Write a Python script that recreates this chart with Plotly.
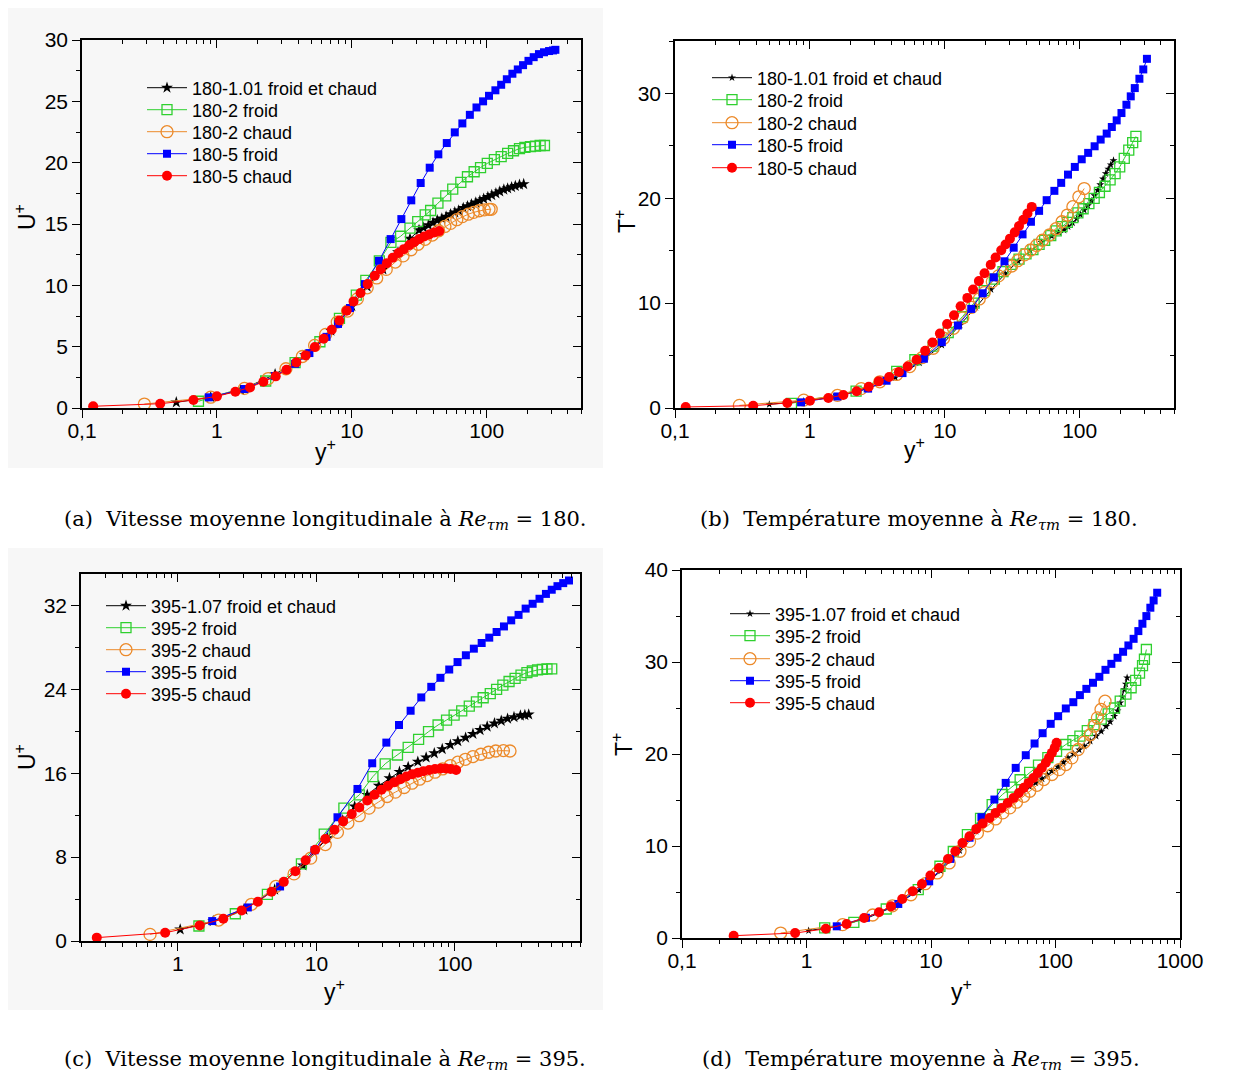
import plotly.graph_objects as go

# ----------------------------- DATA -----------------------------
NAMES_180 = ["180-1.01 froid et chaud", "180-2 froid", "180-2 chaud", "180-5 froid", "180-5 chaud"]
NAMES_395 = ["395-1.07 froid et chaud", "395-2 froid", "395-2 chaud", "395-5 froid", "395-5 chaud"]

# (a) U+ vs y+, Re=180
A_BLACK_X = [0.5, 0.9, 1.5, 2.7, 4.5, 7.0, 10.0, 13.0, 17.0, 22.0, 27.0, 31.5, 34, 37, 40, 43, 46.5, 50, 54, 58, 62, 67, 72, 77, 83, 89, 95, 102, 109, 117, 125, 134, 143, 153, 163, 175, 188]
A_BLACK_Y = [0.46, 0.88, 1.45, 2.75, 4.3, 6.3, 8.3, 9.9, 11.3, 12.7, 13.8, 14.5, 14.7, 14.9, 15.1, 15.3, 15.45, 15.6, 15.8, 15.95, 16.1, 16.3, 16.45, 16.6, 16.75, 16.9, 17.05, 17.2, 17.35, 17.5, 17.65, 17.8, 17.9, 18.0, 18.1, 18.2, 18.25]
A_GREEN_X = [0.73, 2.3, 3.8, 5.8, 8.1, 10.8, 12.7, 16.0, 19.5, 23, 27, 30.8, 35, 38.4, 43.5, 49.7, 56, 64.3, 72, 80.7, 90, 101, 114, 128, 143, 158, 175, 192, 211, 230, 249, 268]
A_GREEN_Y = [0.55, 2.2, 3.7, 5.4, 7.3, 9.2, 10.4, 12.0, 13.5, 14.0, 14.66, 15.2, 15.75, 16.1, 16.7, 17.3, 17.85, 18.4, 18.85, 19.26, 19.6, 19.94, 20.25, 20.5, 20.75, 20.97, 21.15, 21.25, 21.3, 21.35, 21.4, 21.4]
A_ORANGE_X = [0.29, 0.9, 1.6, 2.4, 3.25, 4.3, 5.3, 6.4, 7.8, 9.3, 11.0, 13.0, 15.3, 18, 21, 24, 27.5, 31, 35, 39.5, 44, 49, 54, 60, 66, 73, 80, 88, 96, 104, 108]
A_ORANGE_Y = [0.32, 0.88, 1.6, 2.4, 3.2, 4.2, 5.1, 6.0, 7.0, 7.9, 8.9, 9.8, 10.6, 11.3, 11.9, 12.4, 12.9, 13.35, 13.75, 14.1, 14.45, 14.8, 15.05, 15.35, 15.6, 15.8, 15.95, 16.08, 16.15, 16.2, 16.2]
A_BLUE_X = [0.87, 1.6, 2.7, 3.8, 4.85, 6.5, 7.9, 9.7, 12.5, 15.9, 19.4, 23.3, 27.6, 32.4, 37.8, 43.8, 50.6, 58, 66, 75, 84, 94, 104, 116, 128, 141, 155, 170, 186, 204, 223, 244, 266, 290, 310, 323]
A_BLUE_Y = [0.87, 1.55, 2.6, 3.6, 4.48, 5.8, 6.85, 8.15, 10.1, 12.0, 13.77, 15.4, 16.93, 18.34, 19.59, 20.68, 21.6, 22.47, 23.2, 23.9, 24.5, 25.0, 25.45, 25.9, 26.35, 26.8, 27.25, 27.6, 27.95, 28.3, 28.6, 28.85, 29.0, 29.1, 29.15, 29.2]
A_RED_X = [0.121, 0.38, 0.67, 1.0, 1.37, 1.76, 2.21, 2.73, 3.28, 3.88, 4.55, 5.32, 6.18, 7.1, 8.09, 9.16, 10.3, 11.6, 13.1, 14.8, 16.4, 18.2, 20.1, 22.2, 24.3, 26.7, 29.0, 31.6, 34.4, 37.5, 40.8, 44.5]
A_RED_Y = [0.14, 0.35, 0.65, 0.95, 1.33, 1.68, 2.14, 2.58, 3.12, 3.72, 4.29, 4.97, 5.65, 6.38, 7.14, 7.93, 8.69, 9.37, 10.1, 10.78, 11.32, 11.81, 12.25, 12.63, 12.95, 13.28, 13.52, 13.77, 13.98, 14.15, 14.31, 14.42]

# (b) T+ vs y+, Re=180
B_BLACK_X = [0.5, 0.9, 1.5, 2.6, 4.3, 6.5, 9.5, 13, 17, 22, 28, 35, 43, 52, 62, 70, 76.6, 82, 88.4, 95, 101, 108, 115, 122, 129, 135.6, 142, 149, 156, 163, 170, 178]
B_BLACK_Y = [0.35, 0.65, 1.05, 1.8, 2.9, 4.3, 6.0, 7.9, 9.6, 11.3, 12.8, 14.0, 15.0, 15.8, 16.4, 16.75, 16.96, 17.3, 17.66, 18.05, 18.45, 18.87, 19.3, 19.75, 20.25, 20.77, 21.3, 21.85, 22.36, 22.8, 23.2, 23.6]
B_GREEN_X = [0.73, 2.2, 4.4, 6.0, 8.2, 10.6, 13.5, 16.5, 19.6, 23.3, 27, 31, 35.5, 40, 45, 50, 55, 61, 67, 74, 81, 89, 97, 106, 117, 128, 140, 154, 168, 183, 198, 214, 231, 247, 261]
B_GREEN_Y = [0.45, 1.6, 3.5, 4.6, 5.9, 7.2, 8.7, 10.0, 11.2, 12.3, 13.0, 13.7, 14.2, 14.7, 15.1, 15.6, 16.0, 16.45, 16.9, 17.3, 17.7, 18.15, 18.6, 19.0, 19.5, 20.0, 20.55, 21.15, 21.75, 22.35, 23.0, 23.8, 24.6, 25.3, 25.9]
B_ORANGE_X = [0.3, 0.9, 1.6, 2.4, 3.3, 4.4, 5.5, 6.8, 8.2, 9.8, 11.6, 13.6, 15.8, 18.0, 19.6, 22.5, 25, 28, 31.3, 34.7, 39, 43.3, 47.9, 53, 59.7, 66.7, 74, 81, 89, 98.6, 108]
B_ORANGE_Y = [0.25, 0.75, 1.2, 1.85, 2.5, 3.2, 3.95, 4.8, 5.7, 6.65, 7.6, 8.6, 9.6, 10.4, 11.0, 12.05, 12.6, 13.16, 13.54, 14.05, 14.6, 15.07, 15.5, 16.0, 16.5, 17.1, 17.76, 18.4, 19.2, 20.14, 20.93]
B_BLUE_X = [0.86, 1.6, 2.7, 3.7, 4.86, 7.0, 9.5, 12.5, 15.7, 19.1, 23.1, 27.7, 32.4, 37.7, 43.5, 50, 56.9, 64.9, 72.9, 81.9, 92, 103.5, 115.5, 129, 143, 158.5, 173, 188, 204, 222, 239, 256, 277, 296, 315]
B_BLUE_Y = [0.54, 1.1, 1.85, 2.6, 3.33, 4.7, 6.28, 7.87, 9.45, 10.94, 12.46, 13.99, 15.29, 16.56, 17.76, 18.8, 19.82, 20.71, 21.47, 22.26, 22.99, 23.72, 24.33, 24.96, 25.6, 26.17, 26.8, 27.43, 28.13, 28.92, 29.72, 30.51, 31.4, 32.29, 33.3]
B_RED_X = [0.12, 0.38, 0.68, 1.0, 1.37, 1.77, 2.22, 2.73, 3.24, 3.87, 4.57, 5.3, 6.18, 7.15, 8.1, 9.2, 10.4, 11.7, 13.1, 14.7, 16.2, 17.9, 19.7, 21.9, 23.8, 26.2, 28.2, 30.4, 33.0, 35.5, 38.2, 41.0, 44.1]
B_RED_Y = [0.1, 0.22, 0.48, 0.7, 0.95, 1.24, 1.6, 2.03, 2.54, 2.95, 3.43, 3.96, 4.6, 5.45, 6.25, 7.1, 8.0, 8.85, 9.7, 10.5, 11.3, 12.1, 12.85, 13.65, 14.35, 15.05, 15.6, 16.15, 16.75, 17.35, 17.95, 18.55, 19.18]

# (c) U+ vs y+, Re=395
C_BLACK_X = [1.04, 1.8, 3.0, 5.0, 8.0, 12, 15.5, 18.9, 23.3, 28.2, 33.7, 39.8, 46, 54, 62, 71, 81, 92.7, 105, 119.5, 135, 152, 171, 193, 216, 240, 267, 297, 320, 341]
C_BLACK_Y = [1.1, 1.9, 3.0, 4.9, 7.2, 9.8, 11.5, 12.83, 13.94, 14.8, 15.53, 16.13, 16.6, 17.1, 17.5, 17.9, 18.3, 18.7, 19.05, 19.39, 19.75, 20.12, 20.45, 20.75, 21.0, 21.2, 21.35, 21.5, 21.55, 21.6]
C_GREEN_X = [1.42, 2.6, 4.43, 7.8, 11.4, 15.8, 20.4, 25.6, 31.4, 38.5, 46, 54.7, 64.5, 75.6, 87, 98.7, 112, 127, 143, 160, 180, 200, 222, 246, 272, 300, 331, 362, 395, 428, 462, 500]
C_GREEN_Y = [1.43, 2.6, 4.44, 7.35, 10.2, 12.67, 13.94, 15.68, 16.9, 17.74, 18.47, 19.23, 19.96, 20.6, 21.07, 21.55, 21.95, 22.4, 22.8, 23.2, 23.6, 24.0, 24.4, 24.75, 25.05, 25.35, 25.6, 25.75, 25.85, 25.9, 25.95, 25.95]
C_ORANGE_X = [0.63, 1.97, 3.4, 5.1, 6.9, 9.1, 11.6, 14.2, 16.9, 20.4, 24, 28, 32.4, 37.2, 43, 49, 55.6, 63, 71.8, 81.5, 92.6, 105, 119, 135, 154, 175, 197, 224, 250]
C_ORANGE_Y = [0.63, 2.0, 3.5, 5.2, 6.4, 7.9, 9.2, 10.36, 11.25, 11.95, 12.67, 13.24, 13.78, 14.2, 14.64, 15.05, 15.43, 15.78, 16.1, 16.41, 16.73, 17.05, 17.33, 17.59, 17.81, 18.0, 18.12, 18.16, 18.12]
C_BLUE_X = [1.77, 3.2, 5.47, 9.7, 14.2, 19.8, 25.3, 32, 39.5, 47.9, 57.2, 67.5, 78.6, 91, 104.5, 120, 137, 156, 177, 200, 226, 255, 288, 324, 364, 408, 454, 500, 550, 605, 666]
C_BLUE_Y = [1.9, 3.2, 5.2, 8.65, 11.8, 14.5, 16.95, 18.92, 20.6, 21.96, 23.23, 24.24, 25.1, 25.89, 26.6, 27.25, 27.88, 28.42, 28.93, 29.47, 30.0, 30.58, 31.1, 31.7, 32.16, 32.64, 33.1, 33.5, 33.84, 34.13, 34.38]
C_RED_X = [0.26, 0.81, 1.44, 2.13, 2.89, 3.78, 4.75, 5.82, 7.05, 8.37, 9.8, 11.6, 13.5, 15.6, 18, 20.4, 23.3, 26.3, 29.5, 32.9, 36.6, 40.5, 44.6, 49.1, 54, 59.3, 65.3, 71.8, 79, 85.9, 93, 102]
C_RED_Y = [0.32, 0.79, 1.49, 2.12, 2.92, 3.74, 4.69, 5.64, 6.65, 7.7, 8.71, 9.73, 10.61, 11.41, 12.1, 12.74, 13.4, 13.94, 14.42, 14.8, 15.15, 15.43, 15.68, 15.9, 16.05, 16.2, 16.3, 16.4, 16.45, 16.45, 16.4, 16.3]

# (d) T+ vs y+, Re=395
D_BLACK_X = [1.04, 1.8, 3.0, 5.0, 8.0, 12, 17, 23, 30, 38, 46, 55, 62, 69.5, 78, 86, 93.5, 105, 116, 126, 140, 155, 170, 190, 212, 233, 255, 275, 296, 315, 331, 345, 357, 367, 376]
D_BLACK_Y = [0.8, 1.3, 2.1, 3.4, 5.2, 7.3, 9.5, 11.6, 13.0, 14.3, 15.2, 16.0, 16.45, 16.86, 17.3, 17.75, 18.13, 18.6, 19.1, 19.58, 20.0, 20.45, 20.85, 21.4, 21.94, 22.45, 23.0, 23.5, 24.1, 24.7, 25.56, 26.2, 27.0, 27.6, 28.28]
D_GREEN_X = [1.4, 2.4, 4.37, 7.9, 11.8, 15.1, 19.6, 25, 31, 37.5, 44.4, 52, 62, 73, 86.8, 102, 121, 138, 157, 180, 204, 233, 265, 298, 331, 368, 405, 440, 473, 500, 518, 537]
D_GREEN_Y = [1.09, 1.7, 3.15, 5.26, 7.8, 9.4, 11.24, 13.0, 14.5, 15.6, 16.4, 17.2, 18.0, 18.8, 19.6, 20.3, 21.03, 21.45, 21.94, 22.55, 23.2, 23.8, 24.37, 25.0, 25.74, 26.5, 27.2, 28.0, 28.8, 29.6, 30.3, 31.36]
D_ORANGE_X = [0.62, 1.95, 3.4, 4.9, 6.9, 9.0, 11.2, 14, 17.1, 20.4, 23.6, 28.5, 33, 37.7, 42.9, 48.6, 55.6, 62.1, 71, 80.5, 93.5, 107, 121, 135.5, 152, 170, 190, 204, 217, 232, 250]
D_ORANGE_Y = [0.54, 1.45, 2.5, 3.5, 4.7, 5.9, 7.07, 8.16, 9.43, 10.5, 11.4, 12.2, 12.94, 13.6, 14.14, 14.76, 15.4, 15.95, 16.6, 17.22, 17.77, 18.3, 18.85, 19.58, 20.49, 21.28, 22.1, 23.02, 23.93, 24.84, 25.74]
D_BLUE_X = [1.75, 3.0, 5.46, 9.67, 14.3, 20.4, 25.4, 32.3, 39.8, 47.9, 57.7, 67.9, 78.8, 91.5, 105, 121, 139, 157, 177, 200, 225, 252, 281, 315, 349, 385, 424, 463, 499, 537, 578, 614, 656]
D_BLUE_Y = [1.27, 2.2, 3.7, 6.16, 8.6, 10.9, 13.13, 15.05, 16.86, 18.49, 19.87, 21.14, 22.26, 23.28, 24.11, 24.95, 25.63, 26.4, 27.08, 27.74, 28.39, 29.15, 29.8, 30.46, 31.11, 31.8, 32.52, 33.36, 34.16, 34.99, 35.9, 36.69, 37.53]
D_RED_X = [0.26, 0.81, 1.43, 2.1, 2.9, 3.82, 4.77, 5.87, 7.13, 8.46, 9.89, 11.6, 13.7, 15.7, 17.9, 20.4, 23.1, 26, 29.5, 33, 36.9, 41.3, 46.1, 50.8, 55.6, 60.8, 66.4, 72.1, 77.6, 83.6, 88.7, 93.5, 98.6, 102]
D_RED_Y = [0.25, 0.54, 1.0, 1.52, 2.18, 2.79, 3.44, 4.24, 5.08, 5.87, 6.78, 7.61, 8.59, 9.43, 10.33, 11.06, 11.86, 12.44, 13.05, 13.6, 14.14, 14.68, 15.23, 15.77, 16.32, 16.86, 17.4, 17.95, 18.49, 19.04, 19.58, 20.12, 20.67, 21.21]

# ----------------------------- STYLE -----------------------------
FONT = "Liberation Sans, Arial, sans-serif"
SERIF = "DejaVu Serif, Liberation Serif, serif"
OFF = 8                      # the page body has an 8px margin
W, H = 1240 - OFF, 1075 - OFF

STYLES = [
    dict(color="#000000", symbol="star", line=0),
    dict(color="#2fd02f", symbol="square-open", line=1.3),
    dict(color="#ec8a2a", symbol="circle-open", line=1.3),
    dict(color="#0000ff", symbol="square", line=0),
    dict(color="#ff0000", symbol="circle", line=0),
]


def px(xp):
    return (xp - OFF) / W


def py(yp):
    return 1 - (yp - OFF) / H


panels = [
    dict(xs=[A_BLACK_X, A_GREEN_X, A_ORANGE_X, A_BLUE_X, A_RED_X],
         ys=[A_BLACK_Y, A_GREEN_Y, A_ORANGE_Y, A_BLUE_Y, A_RED_Y],
         names=NAMES_180, sizes=[9, 10, 12, 8, 10],
         box=(82, 581, 40, 408), xr=[-1, 2.699], yr=[0, 30], ydt=5, ymin=2.5,
         xtv=[0.1, 1, 10, 100], xtt=["0,1", "1", "10", "100"], ytitle="U<sup>+</sup>",
         xt=(325, 450), yt=(25, 217), leg_x=147, leg_rows=[88, 110, 132, 154, 176],
         cap="(a)&nbsp; Vitesse moyenne longitudinale à <i>Re</i><sub><i>τm</i></sub> = 180.", capxy=(325, 520)),
    dict(xs=[B_BLACK_X, B_GREEN_X, B_ORANGE_X, B_BLUE_X, B_RED_X],
         ys=[B_BLACK_Y, B_GREEN_Y, B_ORANGE_Y, B_BLUE_Y, B_RED_Y],
         names=NAMES_180, sizes=[6, 10, 12, 8, 10],
         box=(675, 1174, 41, 408), xr=[-1, 2.699], yr=[0, 35], ydt=10, ymin=5,
         xtv=[0.1, 1, 10, 100], xtt=["0,1", "1", "10", "100"], ytitle="T<sup>+</sup>",
         xt=(914, 448), yt=(625, 222), leg_x=712, leg_rows=[78, 100, 123, 145, 168],
         cap="(b)&nbsp; Température moyenne à <i>Re</i><sub><i>τm</i></sub> = 180.", capxy=(919, 520)),
    dict(xs=[C_BLACK_X, C_GREEN_X, C_ORANGE_X, C_BLUE_X, C_RED_X],
         ys=[C_BLACK_Y, C_GREEN_Y, C_ORANGE_Y, C_BLUE_Y, C_RED_Y],
         names=NAMES_395, sizes=[9, 10, 12, 8, 10],
         box=(81, 580, 574, 941), xr=[-0.699, 2.903], yr=[0, 35], ydt=8, ymin=4,
         xt=(334, 990), yt=(25, 757), leg_x=106, leg_rows=[606, 628, 650, 672, 694],
         xtv=[1, 10, 100], xtt=["1", "10", "100"], ytitle="U<sup>+</sup>",
         cap="(c)&nbsp; Vitesse moyenne longitudinale à <i>Re</i><sub><i>τm</i></sub> = 395.", capxy=(325, 1060)),
    dict(xs=[D_BLACK_X, D_GREEN_X, D_ORANGE_X, D_BLUE_X, D_RED_X],
         ys=[D_BLACK_Y, D_GREEN_Y, D_ORANGE_Y, D_BLUE_Y, D_RED_Y],
         names=NAMES_395, sizes=[6, 10, 12, 8, 10],
         box=(682, 1180, 570, 938), xr=[-1, 3], yr=[0, 40], ydt=10, ymin=5,
         xt=(961, 990), yt=(622, 745), leg_x=730, leg_rows=[614, 636, 659, 681, 703],
         xtv=[0.1, 1, 10, 100, 1000], xtt=["0,1", "1", "10", "100", "1000"], ytitle="T<sup>+</sup>",
         cap="(d)&nbsp; Température moyenne à <i>Re</i><sub><i>τm</i></sub> = 395.", capxy=(921, 1060)),
]

fig = go.Figure()
layout = dict(
    width=W, height=H, template="none", showlegend=True,
    margin=dict(l=0, r=0, t=0, b=0),
    paper_bgcolor="white", plot_bgcolor="rgba(0,0,0,0)",
    font=dict(family=FONT, size=21, color="black"),
    shapes=[], annotations=[],
)

# light-gray backdrop of the left-hand images
for (x0, x1, y0, y1) in [(8, 603, 8, 468), (8, 603, 548, 1010)]:
    layout["shapes"].append(dict(type="rect", xref="paper", yref="paper", layer="below",
                                 x0=px(x0), x1=px(x1), y0=py(y1), y1=py(y0),
                                 fillcolor="#f7f7f7", line=dict(width=0)))

leg_n = 0
for k, p in enumerate(panels, start=1):
    s = "" if k == 1 else str(k)
    st = str(k + 4)
    xa, ya = "x" + s, "y" + s
    x0, x1, y0, y1 = p["box"]
    xdom = [px(x0), px(x1)]
    ydom = [py(y1), py(y0)]

    for i in range(5):
        sty = STYLES[i]
        leg_n += 1
        leg = "legend" if leg_n == 1 else "legend%d" % leg_n
        fig.add_trace(go.Scatter(
            x=p["xs"][i], y=p["ys"][i], mode="lines+markers", name=p["names"][i],
            xaxis=xa, yaxis=ya, legend=leg, showlegend=True,
            line=dict(color=sty["color"], width=1),
            marker=dict(symbol=sty["symbol"], size=p["sizes"][i], color=sty["color"],
                        line=dict(color=sty["color"], width=sty["line"])),
        ))
        layout[leg] = dict(x=px(p["leg_x"] - 5), y=py(p["leg_rows"][i]), xanchor="left", yanchor="middle",
                           xref="paper", yref="paper", bgcolor="rgba(0,0,0,0)", borderwidth=0,
                           itemwidth=40, font=dict(family=FONT, size=18), visible=True)
    # helper traces so that the mirror axes (top / right) are drawn
    fig.add_trace(go.Scatter(x=[], y=[], xaxis="x" + st, yaxis=ya, showlegend=False, hoverinfo="skip"))
    fig.add_trace(go.Scatter(x=[], y=[], xaxis=xa, yaxis="y" + st, showlegend=False, hoverinfo="skip"))

    common = dict(showline=True, linecolor="black", linewidth=1.5, showgrid=False, zeroline=False,
                  tickcolor="black", tickwidth=1.2)
    layout["xaxis" + s] = dict(
        common, domain=xdom, anchor=ya, type="log", range=p["xr"],
        ticks="outside", ticklen=8, tickvals=p["xtv"], ticktext=p["xtt"],
        tickfont=dict(size=21), ticklabelstandoff=-5,
        minor=dict(ticks="outside", ticklen=4, tickcolor="black", tickwidth=1, dtick="D1", showgrid=False),
    )
    layout["yaxis" + s] = dict(
        common, domain=ydom, anchor=xa, range=p["yr"],
        ticks="outside", ticklen=8, dtick=p["ydt"], tick0=0,
        tickfont=dict(size=21),
        minor=dict(ticks="outside", ticklen=4, tickcolor="black", tickwidth=1, dtick=p["ymin"], showgrid=False),
    )
    layout["xaxis" + st] = dict(
        common, overlaying=xa, side="top", anchor=ya, type="log", range=p["xr"],
        ticks="inside", ticklen=8, tickvals=p["xtv"], showticklabels=False,
        minor=dict(ticks="inside", ticklen=4, tickcolor="black", tickwidth=1, dtick="D1", showgrid=False),
    )
    layout["yaxis" + st] = dict(
        common, overlaying=ya, side="right", anchor=xa, range=p["yr"],
        ticks="inside", ticklen=8, dtick=p["ydt"], tick0=0, showticklabels=False,
        minor=dict(ticks="inside", ticklen=4, tickcolor="black", tickwidth=1, dtick=p["ymin"], showgrid=False),
    )
    # axis titles
    tx, ty = p["xt"]
    layout["annotations"].append(dict(text="y<sup>+</sup>", x=px(tx), y=py(ty), xref="paper", yref="paper",
                                      xanchor="center", yanchor="middle", showarrow=False,
                                      font=dict(family=FONT, size=23)))
    tx, ty = p["yt"]
    layout["annotations"].append(dict(text=p["ytitle"], x=px(tx), y=py(ty), xref="paper", yref="paper",
                                      xanchor="center", yanchor="middle", showarrow=False, textangle=-90,
                                      font=dict(family=FONT, size=23)))
    cx, cy = p["capxy"]
    layout["annotations"].append(dict(text=p["cap"], x=px(cx), y=py(cy), xref="paper", yref="paper",
                                      xanchor="center", yanchor="middle", showarrow=False,
                                      font=dict(family=SERIF, size=21, color="black")))

fig.update_layout(layout)
fig.write_html("out.html")
